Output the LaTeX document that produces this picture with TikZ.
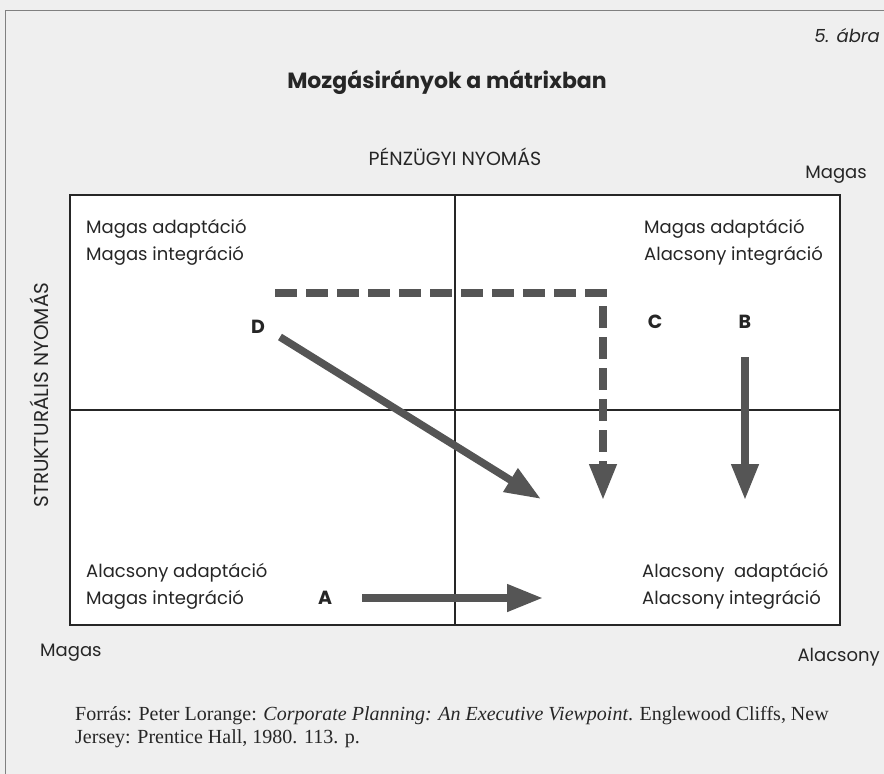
\documentclass[tikz,border=0pt]{standalone}
\usepackage{fontspec}
\setmainfont{Liberation Serif}
\setsansfont{Poppins}
\newfontfamily\heavyfont{Poppins}
\usetikzlibrary{positioning, arrows.meta, calc}
\definecolor{pagebg}{HTML}{EFEFEF}
\definecolor{arrgray}{HTML}{555555}
\definecolor{inkgray}{HTML}{262626}

\begin{document}
\begin{tikzpicture}[x=1pt, y=-1pt,
        q/.style={font=\sffamily\fontsize{18}{27.5}\selectfont, text=inkgray, align=left, inner sep=0pt},
        corner/.style={font=\sffamily\fontsize{18}{22}\selectfont, text=inkgray, inner sep=0pt},
        caps/.style={font=\sffamily\fontsize{19}{22}\selectfont, text=inkgray, inner sep=0pt},
        lbl/.style={font=\heavyfont\bfseries\fontsize{19}{19}\selectfont, text=inkgray, inner sep=0pt},
        mv/.style={draw=arrgray, line width=7.5pt, -{Triangle[length=36pt, width=26pt]}},
        mvdash/.style={mv, dash pattern=on 22pt off 9pt}]
      \fill[pagebg] (0,0) rectangle (884,774);
      \useasboundingbox (0,0) rectangle (884,774);
      \draw[gray, line width=0.8pt] (5,774) -- (5,10) -- (884,10);

      \node[font=\sffamily\itshape\fontsize{18}{22}\selectfont, text=inkgray, anchor=base east, inner sep=0pt] (fig) at (880,42) {5. ábra};
      \node[font=\sffamily\bfseries\fontsize{22}{26}\selectfont, text=inkgray, anchor=base] (title) at (447,88) {Mozgásirányok a mátrixban};

      % matrix
      \node[draw=inkgray, line width=1.2pt, fill=white, minimum width=770pt, minimum height=430pt, inner sep=0pt] (mx) at (455,410) {};
      \draw[inkgray, line width=1.6pt] (mx.north) -- (mx.south);
      \draw[inkgray, line width=1.6pt] (mx.west) -- (mx.east);

      \node[caps, anchor=base] (fin) at (455,165) {PÉNZÜGYI NYOMÁS};
      \node[caps, font=\sffamily\fontsize{20}{22}\selectfont, rotate=90] (str) at (39,395) {STRUKTURÁLIS NYOMÁS};
      \node[corner, anchor=base east] (hi1) at (867,178) {Magas};
      \node[corner, anchor=base west] (hi2) at (40,656) {Magas};
      \node[corner, anchor=base east] (lo1) at (880,661) {Alacsony};

      \node[q, anchor=north west] (tl) at (86,219) {Magas adaptáció\\Magas integráció};
      \node[q, anchor=north west] (tr) at (644,219) {Magas adaptáció\\Alacsony integráció};
      \node[q, anchor=north west] (bl) at (86,563) {Alacsony adaptáció\\Magas integráció};
      \node[q, anchor=north west] (br) at (642,563) {Alacsony\ \ adaptáció\\Alacsony integráció};

      % movements
      \node[lbl] (d) at (258,327) {D};
      \node[lbl] (c) at (655,322) {C};
      \node[lbl] (b) at (745,322) {B};
      \node[lbl] (a) at (325,598) {A};

      \coordinate (d0) at (280,337);
      \coordinate (d1) at (541,499);
      \coordinate (c0) at (275,293);
      \coordinate (ck) at (603,293);
      \coordinate (c1) at (603,500);
      \coordinate (b0) at (745,357);
      \coordinate (b1) at (745,500);
      \coordinate (a0) at (362,598);
      \coordinate (a1) at (543,598);

      \draw[mv] (d0) -- (d1);
      \draw[mvdash] (c0) -- (ck) -- (c1);
      \draw[mv] (b0) -- (b1);
      \draw[mv] (a0) -- (a1);

      % source
      \node[font=\fontsize{20}{23}\selectfont, text=inkgray, anchor=north west, align=left, inner sep=0pt] (src) at (75,706)
        {Forrás: Peter Lorange: \textit{Corporate Planning: An Executive Viewpoint}. Englewood Cliffs, New\\Jersey: Prentice Hall, 1980. 113. p.};
    \end{tikzpicture}
\end{document}
